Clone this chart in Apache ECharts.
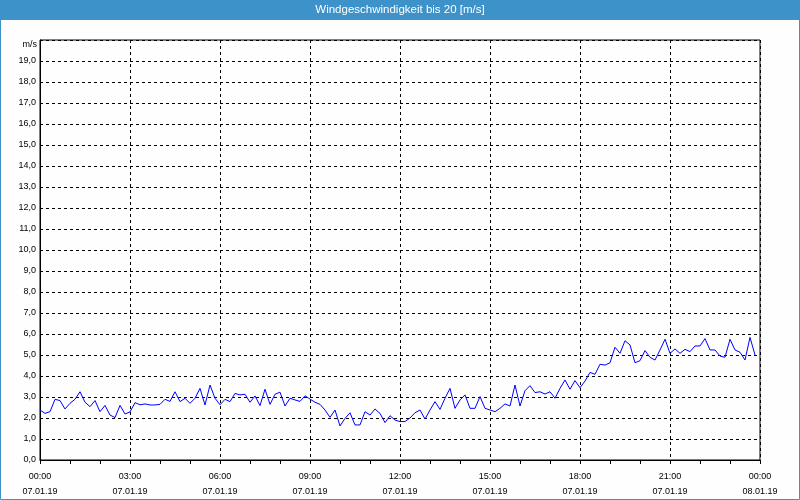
<!DOCTYPE html>
<html>
<head>
<meta charset="utf-8">
<script src="https://cdn.jsdelivr.net/npm/echarts@6/dist/echarts.min.js"></script>
<style>
html,body{margin:0;padding:0;background:#fdfefd;}
#chart{width:800px;height:500px;}
</style>
</head>
<body>
<div id="chart"></div>
<script>
// ---- data ----
const chartTitle = 'Windgeschwindigkeit bis 20 [m/s]';
const unitLabel = 'm/s';
const startMinute = 0;      // 07.01.19 00:00
const stepMinutes = 10;     // sampling interval
// wind speed [m/s], one value every 10 minutes, 00:00 .. 23:50
const windSpeed = [
  2.38, 2.22, 2.30, 2.89, 2.83, 2.43,
  2.70, 2.89, 3.25, 2.75, 2.54, 2.83,
  2.30, 2.60, 2.14, 2.02, 2.60, 2.19,
  2.29, 2.73, 2.63, 2.67, 2.62, 2.62,
  2.65, 2.89, 2.79, 3.25, 2.78, 2.94,
  2.70, 2.94, 3.41, 2.62, 3.57, 2.94,
  2.63, 2.89, 2.78, 3.17, 3.10, 3.13,
  2.75, 3.05, 2.59, 3.37, 2.65, 3.13,
  3.23, 2.57, 2.94, 2.86, 2.79, 3.06,
  2.90, 2.75, 2.65, 2.38, 2.03, 2.38,
  1.62, 1.98, 2.25, 1.67, 1.67, 2.30,
  2.14, 2.43, 2.22, 1.78, 2.11, 1.90,
  1.83, 1.83, 2.00, 2.25, 2.38, 1.95,
  2.38, 2.78, 2.41, 2.94, 3.41, 2.46,
  2.86, 3.10, 2.46, 2.46, 3.02, 2.46,
  2.38, 2.30, 2.46, 2.67, 2.57, 3.57,
  2.57, 3.30, 3.54, 3.21, 3.25, 3.14,
  3.25, 2.94, 3.41, 3.81, 3.37, 3.78,
  3.44, 3.76, 4.17, 4.08, 4.56, 4.52,
  4.63, 5.37, 5.08, 5.68, 5.48, 4.63,
  4.73, 5.21, 4.89, 4.76, 5.24, 5.75,
  5.08, 5.29, 5.08, 5.27, 5.16, 5.43,
  5.43, 5.78, 5.24, 5.24, 4.95, 4.89,
  5.75, 5.24, 5.13, 4.76, 5.84, 5.00
];
// x tick labels (every 3 hours = 180 minutes)
const xTickMinutes = [0, 180, 360, 540, 720, 900, 1080, 1260, 1440];
const xTickTimes = ['00:00','03:00','06:00','09:00','12:00','15:00','18:00','21:00','00:00'];
const xTickDates = ['07.01.19','07.01.19','07.01.19','07.01.19','07.01.19','07.01.19','07.01.19','07.01.19','08.01.19'];
const yMin = 0, yMax = 20, yStep = 1;

// ---- chart ----
const seriesData = windSpeed.map((v, i) => [startMinute + i * stepMinutes, v]);
const blue = '#3c92c9';
const font = 'Liberation Sans';

const chart = echarts.init(document.getElementById('chart'), null, {renderer: 'canvas'});
chart.setOption({
  animation: false,
  backgroundColor: '#fdfefd',
  title: {
    text: chartTitle,
    left: 'center',
    top: 4,
    padding: 0,
    textStyle: {color: '#ffffff', fontFamily: font, fontSize: 11.5, fontWeight: 'normal', lineHeight: 12}
  },
  graphic: [
    {type: 'rect', z: -10, shape: {x: 0, y: 0, width: 800, height: 20}, style: {fill: blue}},
    {type: 'rect', z: 100, shape: {x: 0.5, y: 0.5, width: 799, height: 499}, style: {fill: 'none', stroke: blue, lineWidth: 1}},
    {type: 'text', left: null, right: 763, top: 40, style: {text: unitLabel, fill: '#000', font: '9px "Liberation Sans"', textAlign: 'right'}}
  ],
  grid: {left: 40, right: 40, top: 40, bottom: 40, show: true, borderColor: '#000', borderWidth: 1, backgroundColor: 'transparent'},
  xAxis: {
    type: 'value',
    min: xTickMinutes[0],
    max: xTickMinutes[xTickMinutes.length - 1],
    interval: 180,
    axisLine: {show: true, lineStyle: {color: '#000', width: 1}},
    axisTick: {show: true, length: 4, lineStyle: {color: '#000'}},
    minorTick: {show: true, splitNumber: 3, length: 4, lineStyle: {color: '#000'}},
    splitLine: {show: true, lineStyle: {color: '#000', type: [3, 3], width: 1}},
    axisLabel: {
      margin: 9,
      fontFamily: font,
      fontSize: 9,
      color: '#000',
      lineHeight: 15,
      formatter: function (v) {
        const i = xTickMinutes.indexOf(v);
        return i >= 0 ? xTickTimes[i] + '\n' + xTickDates[i] : '';
      }
    }
  },
  yAxis: {
    type: 'value',
    min: yMin,
    max: yMax,
    interval: yStep,
    axisLine: {show: true, lineStyle: {color: '#000', width: 1}},
    axisTick: {show: false},
    splitLine: {show: true, lineStyle: {color: '#000', type: [3, 3], width: 1}},
    axisLabel: {
      margin: 4,
      fontFamily: font,
      fontSize: 9,
      color: '#000',
      formatter: function (v) {
        return v >= yMax ? '' : v.toFixed(1).replace('.', ',');
      }
    }
  },
  series: [{
    type: 'line',
    data: seriesData,
    showSymbol: false,
    symbol: 'none',
    lineStyle: {color: '#0000ff', width: 1},
    z: 5
  }]
});
</script>
</body>
</html>
